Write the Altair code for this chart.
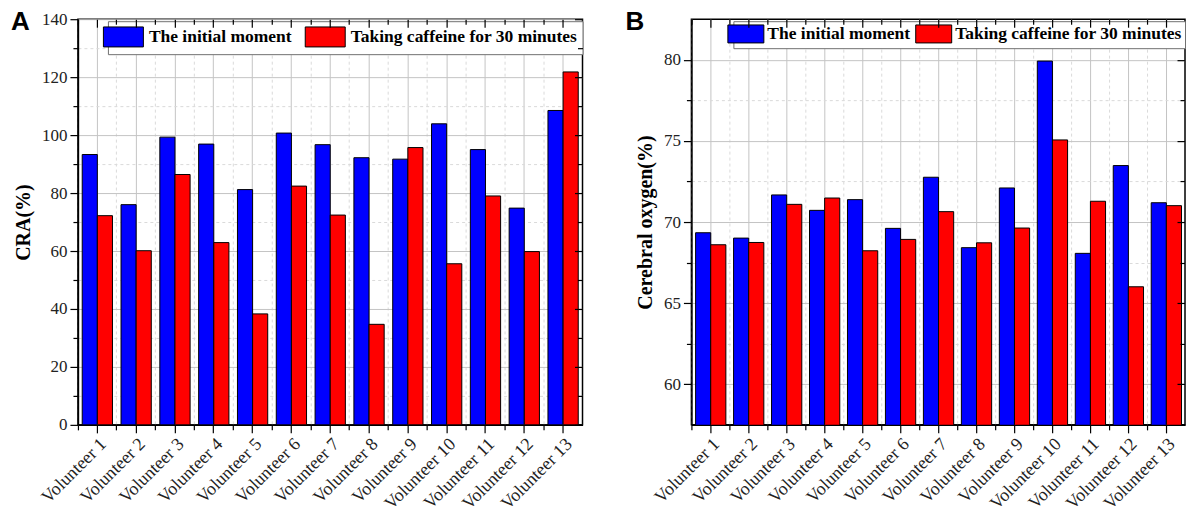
import altair as alt
import pandas as pd

volunteers = ["Volunteer 1", "Volunteer 2", "Volunteer 3", "Volunteer 4", "Volunteer 5",
              "Volunteer 6", "Volunteer 7", "Volunteer 8", "Volunteer 9", "Volunteer 10",
              "Volunteer 11", "Volunteer 12", "Volunteer 13"]
series_names = ["The initial moment", "Taking caffeine for 30 minutes"]
series_colors = ["#0000FF", "#FF0000"]

cra_initial = [93.3, 76.0, 99.3, 96.9, 81.2, 100.7, 96.7, 92.2, 91.7, 103.9, 95.0, 74.8, 108.5]
cra_caffeine = [72.2, 60.1, 86.4, 62.9, 38.3, 82.4, 72.4, 34.7, 95.7, 55.6, 79.0, 59.8, 121.8]
oxy_initial = [69.34, 69.01, 71.67, 70.72, 71.38, 69.61, 72.76, 68.42, 72.10, 79.92, 68.07, 73.48, 71.19]
oxy_caffeine = [68.60, 68.74, 71.09, 71.48, 68.23, 68.93, 70.64, 68.72, 69.63, 75.06, 71.28, 66.01, 71.01]

cra_major = [0, 20, 40, 60, 80, 100, 120, 140]
cra_minor = [10, 30, 50, 70, 90, 110, 130]
oxy_major = [60, 65, 70, 75, 80]
oxy_minor = [62.5, 67.5, 72.5, 77.5]

SERIF = "Liberation Serif"
SANS = "Liberation Sans"
GRID_SOLID = "#c4c4c4"
GRID_DASH = "#dadada"
MINOR_BAND = -0.141


def panel(initial, caffeine, ytitle, ydomain, ymajor, yminor, letter, width, legend_kw, letter_x):
    df = pd.DataFrame({
        "Volunteer": volunteers * 2,
        "Series": [series_names[0]] * len(volunteers) + [series_names[1]] * len(volunteers),
        "Value": initial + caffeine,
    })
    xscale = alt.Scale(paddingInner=0.22, paddingOuter=0.11)
    yscale = alt.Scale(domain=ydomain, zero=False, nice=False)

    def X(axis):
        return alt.X("Volunteer:N", sort=volunteers, scale=xscale, axis=axis, title=None)

    def Y(axis, title=None):
        return alt.Y("Value:Q", scale=yscale, axis=axis, title=title)

    base = alt.Chart(df)

    bottom_minor = alt.Axis(orient="bottom", bandPosition=MINOR_BAND, labels=False, domain=False,
                            tickSize=5, tickColor="black", tickWidth=1.2, grid=True,
                            gridColor=GRID_DASH, gridDash=[3, 3], gridWidth=1)
    left_minor = alt.Axis(orient="left", values=yminor, labels=False, domain=False,
                          tickSize=5, tickColor="black", tickWidth=1.2, grid=True,
                          gridColor=GRID_DASH, gridDash=[3, 3], gridWidth=1)
    carrier_a = base.mark_bar(opacity=0, clip=True).encode(x=X(bottom_minor), y=Y(left_minor))

    top_major = alt.Axis(orient="top", offset=-8, labels=False, domain=False, tickSize=8,
                         tickColor="black", tickWidth=1.2, grid=False, zindex=1)
    right_major = alt.Axis(orient="right", offset=-8, values=ymajor, labels=False, domain=False,
                           tickSize=8, tickColor="black", tickWidth=1.2, grid=False, zindex=1)
    carrier_b = base.mark_bar(opacity=0, clip=True).encode(x=X(top_major), y=Y(right_major))

    top_minor = alt.Axis(orient="top", offset=-5, bandPosition=MINOR_BAND, labels=False, domain=False,
                         tickSize=5, tickColor="black", tickWidth=1.2, grid=False, zindex=1)
    right_minor = alt.Axis(orient="right", offset=-5, values=yminor, labels=False, domain=False,
                           tickSize=5, tickColor="black", tickWidth=1.2, grid=False, zindex=1)
    carrier_c = base.mark_bar(opacity=0, clip=True).encode(x=X(top_minor), y=Y(right_minor))

    bottom_major = alt.Axis(orient="bottom", labelAngle=315, labelAlign="right", labelBaseline="top",
                            labelFont=SERIF, labelFontSize=18, labelColor="#222222", labelPadding=2,
                            tickSize=8, tickColor="black", tickWidth=1.2,
                            domainColor="black", domainWidth=1.5,
                            grid=True, gridColor=GRID_SOLID, gridWidth=1)
    left_major = alt.Axis(orient="left", values=ymajor, labelFont=SERIF, labelFontSize=17,
                          labelColor="#222222", labelPadding=3,
                          tickSize=8, tickColor="black", tickWidth=1.2,
                          domainColor="black", domainWidth=1.5,
                          grid=True, gridColor=GRID_SOLID, gridWidth=1,
                          titleFont=SERIF, titleFontSize=20, titleFontWeight="bold",
                          titleColor="black", titlePadding=8)
    legend = alt.Legend(orient="none", direction="horizontal", title=None,
                        symbolType="M-2,-1H2V1H-2Z", symbolStrokeColor="black",
                        symbolStrokeWidth=1, symbolOpacity=1,
                        labelFont=SERIF, labelFontSize=17.5, labelFontWeight="bold",
                        labelColor="black", labelLimit=400,
                        strokeColor="#707070", fillColor="white", **legend_kw)
    bars = base.mark_bar(stroke="black", strokeWidth=1, clip=True, opacity=1).encode(
        x=X(bottom_major),
        y=Y(left_major, ytitle),
        xOffset=alt.XOffset("Series:N", scale=alt.Scale(domain=series_names)),
        color=alt.Color("Series:N", scale=alt.Scale(domain=series_names, range=series_colors),
                        legend=legend),
    )

    letter_layer = alt.Chart(pd.DataFrame({"label": [letter]})).mark_text(
        align="left", baseline="top", font=SANS, fontSize=26, fontWeight="bold", color="black"
    ).encode(x=alt.value(letter_x), y=alt.value(-10), text="label:N")

    return alt.layer(carrier_a, carrier_b, carrier_c, bars, letter_layer).resolve_axis(
        x="independent", y="independent"
    ).properties(width=width, height=406)


left = panel(cra_initial, cra_caffeine, "CRA(%)", [0, 140], cra_major, cra_minor, "A", 505,
             dict(legendX=30, legendY=2, symbolSize=400, labelOffset=15, columnPadding=11, padding=5),
             -67)
right = panel(oxy_initial, oxy_caffeine, "Cerebral oxygen(%)", [57.5, 82.5], oxy_major, oxy_minor,
              "B", 494,
              dict(legendX=42, legendY=2, symbolSize=324, labelOffset=12, columnPadding=3, padding=3),
              -66)

chart = alt.hconcat(left, right, spacing=40).resolve_scale(color="independent").properties(
    padding={"left": 10, "top": 8, "right": 5, "bottom": 5}, background="white"
).configure_view(stroke="black", strokeWidth=1.5)

chart.save("out.html", embed_options={"renderer": "svg", "actions": False})
